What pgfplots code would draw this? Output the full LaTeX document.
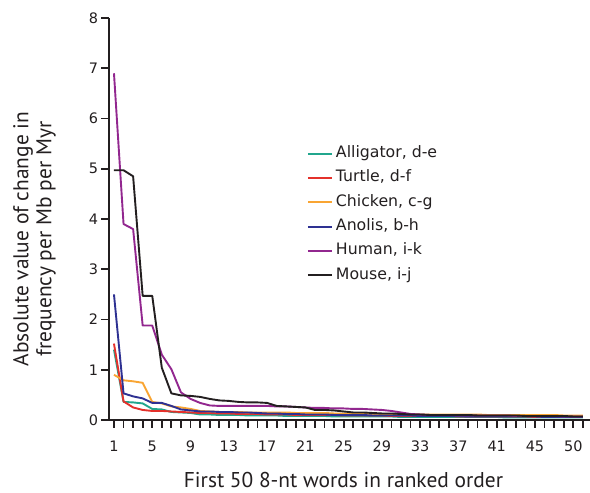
\documentclass[border=0pt]{standalone}
\usepackage{fontspec}
\setmainfont{DejaVu Sans}
\newfontfamily\labelfont{PT Sans}
\usepackage{pgfplots}
\usepackage{pgfplotstable}
\pgfplotsset{compat=1.18}

\definecolor{alli}{HTML}{21A68D}
\definecolor{turt}{HTML}{E4312B}
\definecolor{chic}{HTML}{F9A533}
\definecolor{anol}{HTML}{2E3192}
\definecolor{huma}{HTML}{92278F}
\definecolor{mous}{HTML}{231F20}

% rank  alligator turtle chicken anolis human mouse
\pgfplotstableread{
i  all  tur  chi  ano  hum  mou
1  1.40 1.52 0.90 2.50 6.90 4.97
2  0.36 0.37 0.79 0.53 3.90 4.97
3  0.35 0.25 0.77 0.47 3.80 4.85
4  0.33 0.20 0.74 0.43 1.88 2.47
5  0.22 0.18 0.36 0.34 1.88 2.47
6  0.21 0.18 0.33 0.34 1.30 1.04
7  0.16 0.17 0.27 0.28 1.01 0.53
8  0.15 0.16 0.25 0.21 0.55 0.49
9  0.14 0.15 0.22 0.19 0.42 0.48
10 0.11 0.14 0.18 0.17 0.34 0.46
11 0.11 0.14 0.17 0.17 0.29 0.42
12 0.10 0.13 0.16 0.16 0.28 0.39
13 0.10 0.13 0.16 0.16 0.28 0.38
14 0.10 0.12 0.16 0.15 0.28 0.36
15 0.09 0.12 0.15 0.15 0.28 0.35
16 0.09 0.12 0.15 0.14 0.28 0.35
17 0.09 0.11 0.15 0.13 0.28 0.34
18 0.09 0.11 0.15 0.13 0.27 0.28
19 0.08 0.11 0.15 0.12 0.27 0.27
20 0.08 0.10 0.14 0.12 0.26 0.26
21 0.08 0.10 0.14 0.11 0.25 0.25
22 0.08 0.10 0.14 0.11 0.24 0.20
23 0.08 0.10 0.14 0.11 0.24 0.20
24 0.07 0.10 0.13 0.10 0.23 0.19
25 0.07 0.09 0.13 0.10 0.23 0.17
26 0.07 0.09 0.13 0.10 0.22 0.15
27 0.07 0.09 0.13 0.10 0.22 0.15
28 0.07 0.09 0.12 0.09 0.21 0.14
29 0.07 0.09 0.12 0.09 0.20 0.13
30 0.07 0.08 0.12 0.09 0.18 0.13
31 0.06 0.08 0.12 0.09 0.15 0.12
32 0.06 0.08 0.12 0.09 0.12 0.11
33 0.06 0.08 0.11 0.08 0.11 0.11
34 0.06 0.08 0.11 0.08 0.10 0.10
35 0.06 0.08 0.11 0.08 0.10 0.10
36 0.06 0.08 0.11 0.08 0.10 0.10
37 0.06 0.07 0.11 0.08 0.09 0.10
38 0.06 0.07 0.11 0.07 0.09 0.10
39 0.06 0.07 0.11 0.07 0.09 0.09
40 0.06 0.07 0.10 0.07 0.09 0.09
41 0.06 0.07 0.10 0.07 0.09 0.09
42 0.05 0.07 0.10 0.07 0.09 0.09
43 0.05 0.07 0.10 0.07 0.08 0.09
44 0.05 0.07 0.10 0.07 0.08 0.08
45 0.05 0.06 0.10 0.07 0.08 0.08
46 0.05 0.06 0.10 0.06 0.08 0.08
47 0.05 0.06 0.10 0.06 0.08 0.08
48 0.05 0.06 0.09 0.06 0.07 0.08
49 0.05 0.06 0.09 0.06 0.07 0.07
50 0.05 0.06 0.09 0.06 0.07 0.07
}\ranks

\begin{document}
\begin{tikzpicture}
\begin{axis}[
  scale only axis, width=481bp, height=402bp,
  xmin=0.48, xmax=50.75, ymin=0, ymax=8,
  axis lines*=left,
  axis line style={line width=2.2bp, color=mous},
  tick align=outside,
  major tick length=7.5bp, minor tick length=7.5bp,
  tick style={line width=1.8bp, color=mous},
  xtick={1,5,...,45,49},
  xticklabels={1,5,9,13,17,21,25,29,33,37,41,45,50},
  minor xtick={1,2,...,50},
  ytick={0,1,...,8},
  /pgf/number format/assume math mode=true,
  ticklabel style={font=\fontsize{14.5}{17}\selectfont, color=mous},
  xticklabel style={yshift=-10bp},
  label style={font=\labelfont\fontsize{21.5}{23}\selectfont, color=mous},
  xlabel={First 50 8-nt words in ranked order},
  xlabel style={at={(axis description cs:0.4875,-0.169)}, anchor=base},
  ylabel={Absolute value of change in\\frequency per Mb per Myr},
  ylabel style={at={(axis description cs:-0.155,0.45)}, anchor=center, align=center},
  legend style={draw=none, fill=none, at={(axis description cs:0.405,0.688)}, anchor=north west,
    font=\fontsize{15.8}{18}\selectfont, row sep=8.3bp,
    nodes={inner sep=0pt, text height=12bp, text depth=4bp, color=mous}},
  legend cell align=left,
  /tikz/every odd column/.append style={column sep=3bp},
  legend image code/.code={\draw[#1, line width=2bp] (0bp,0bp) -- (24bp,0bp);},
  every axis plot/.append style={line width=1.9bp, line join=round},
]
\addplot[alli] table[x=i, y=all] {\ranks};
\addlegendentry{Alligator, d-e}
\addplot[turt] table[x=i, y=tur] {\ranks};
\addlegendentry{Turtle, d-f}
\addplot[chic] table[x=i, y=chi] {\ranks};
\addlegendentry{Chicken, c-g}
\addplot[anol] table[x=i, y=ano] {\ranks};
\addlegendentry{Anolis, b-h}
\addplot[huma] table[x=i, y=hum] {\ranks};
\addlegendentry{Human, i-k}
\addplot[mous] table[x=i, y=mou] {\ranks};
\addlegendentry{Mouse, i-j}
\coordinate (O) at (rel axis cs:0,0);
\coordinate (T) at (rel axis cs:1,1);
\end{axis}
\pgfresetboundingbox
\path[use as bounding box] ([xshift=-109bp,yshift=-73bp]O) rectangle ([yshift=18bp]T);
\end{tikzpicture}
\end{document}
